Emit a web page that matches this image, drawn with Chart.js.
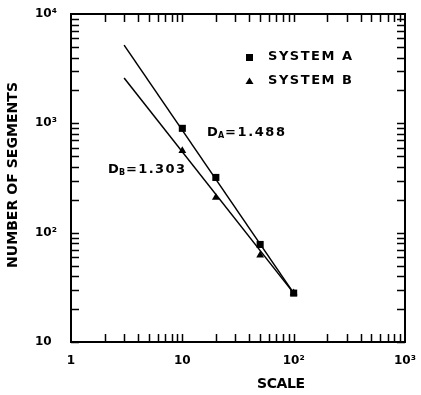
<!DOCTYPE html>
<html>
<head>
<meta charset="utf-8">
<script src="https://cdn.jsdelivr.net/npm/chart.js@4"></script>
<style>
  html, body { margin: 0; padding: 0; background: #fff; }
  #wrap { width: 421px; height: 395px; }
</style>
</head>
<body>
<div id="wrap"><canvas id="fractalChart" width="421" height="395"></canvas></div>
<script>
const scaleA = [10, 20, 50, 100];
const segmentsA = [900, 320, 78, 28];
const scaleB = [10, 20, 50, 100];
const segmentsB = [560, 210, 62, 28];

// fitted power-law lines, end points
const fitScale = [3, 100];
const fitA = [5200, 28];
const fitB = [2600, 28];

// axis ticks
const xTickValues = [1, 10, 100, 1000];
const xTickLabels = ['1', '10', '10²', '10³'];
const yTickValues = [10, 100, 1000, 10000];
const yTickLabels = ['10', '10²', '10³', '10⁴'];

const seriesNames = ['SYSTEM A', 'SYSTEM B'];
const dimLabels = ['1.488', '1.303'];

const FONT = '"DejaVu Sans", sans-serif';

function toPoints(xs, ys) {
    return xs.map((v, i) => ({ x: v, y: ys[i] }));
}

// text stretched to a given width with letter spacing
function spacedText(ctx, text, x, y, width) {
    ctx.letterSpacing = '0px';
    const w = ctx.measureText(text).width;
    const s = text.length > 1 ? (width - w) / (text.length - 1) : 0;
    ctx.letterSpacing = s + 'px';
    ctx.fillText(text, x, y);
    ctx.letterSpacing = '0px';
}

// frame, inward ticks on all sides, titles, legend, notes
const decorations = {
    id: 'decorations',
    afterDraw(chart) {
        const { ctx, chartArea: a } = chart;
        const xs = chart.scales.x, ys = chart.scales.y;
        ctx.save();
        ctx.strokeStyle = '#000';
        ctx.lineWidth = 2;
        ctx.strokeRect(a.left, a.top, a.right - a.left, a.bottom - a.top);

        ctx.lineWidth = 1.5;
        ctx.beginPath();
        const tl = 8;
        for (let d = 1; d < 1000; d *= 10) {
            for (let m = 1; m <= 9; m++) {
                if (d === 1 && m === 1) continue;
                const px = Math.round(xs.getPixelForValue(m * d)) + 0.5;
                ctx.moveTo(px, a.bottom); ctx.lineTo(px, a.bottom - tl);
                ctx.moveTo(px, a.top); ctx.lineTo(px, a.top + tl);
            }
        }
        for (let d = 10; d < 10000; d *= 10) {
            for (let m = 1; m <= 9; m++) {
                const py = Math.round(ys.getPixelForValue(m * d)) + 0.5;
                ctx.moveTo(a.left, py); ctx.lineTo(a.left + tl, py);
                ctx.moveTo(a.right, py); ctx.lineTo(a.right - tl, py);
            }
        }
        ctx.stroke();

        ctx.fillStyle = '#000';
        ctx.textBaseline = 'middle';
        ctx.textAlign = 'left';

        // axis titles
        ctx.font = 'bold 14px ' + FONT;
        spacedText(ctx, 'SCALE', 257, 384, 48);
        ctx.save();
        ctx.translate(13, 175);
        ctx.rotate(-Math.PI / 2);
        spacedText(ctx, 'NUMBER OF SEGMENTS', -93, 0, 186);
        ctx.restore();

        // legend
        ctx.font = 'bold 13px ' + FONT;
        ctx.fillRect(246, 54, 7, 7);
        spacedText(ctx, seriesNames[0], 268, 57, 84);
        ctx.beginPath();
        ctx.moveTo(249.5, 77.5); ctx.lineTo(253.5, 84); ctx.lineTo(245.5, 84);
        ctx.closePath();
        ctx.fill();
        spacedText(ctx, seriesNames[1], 268, 81, 84);

        // fractal dimension notes
        const notes = [[207, 133, 'A', dimLabels[0], 78], [108, 170, 'B', dimLabels[1], 77]];
        notes.forEach(([nx, ny, sub, val, w]) => {
            ctx.font = 'bold 13px ' + FONT;
            ctx.fillText('D', nx, ny);
            ctx.font = 'bold 8px ' + FONT;
            ctx.fillText(sub, nx + 11, ny + 3);
            ctx.font = 'bold 13px ' + FONT;
            spacedText(ctx, '=' + val, nx + 18, ny, w - 18);
        });
        ctx.restore();
    }
};

new Chart(document.getElementById('fractalChart'), {
    type: 'scatter',
    data: {
        datasets: [
            {
                label: seriesNames[0],
                data: toPoints(scaleA, segmentsA),
                pointStyle: 'rect',
                pointRadius: 5,
                backgroundColor: '#000',
                borderColor: '#000',
                borderWidth: 0
            },
            {
                label: seriesNames[1],
                data: toPoints(scaleB, segmentsB),
                pointStyle: 'triangle',
                pointRadius: 4.5,
                backgroundColor: '#000',
                borderColor: '#000',
                borderWidth: 0
            },
            {
                label: 'fit A',
                data: toPoints(fitScale, fitA),
                showLine: true,
                pointRadius: 0,
                borderColor: '#000',
                borderWidth: 1.5
            },
            {
                label: 'fit B',
                data: toPoints(fitScale, fitB),
                showLine: true,
                pointRadius: 0,
                borderColor: '#000',
                borderWidth: 1.5
            }
        ]
    },
    options: {
        responsive: false,
        animation: false,
        devicePixelRatio: 1,
        layout: { padding: { left: 35, top: 14, right: 16, bottom: 0 } },
        plugins: {
            legend: { display: false },
            tooltip: { enabled: false }
        },
        scales: {
            x: {
                type: 'logarithmic',
                min: 1,
                max: 1000,
                grid: { display: false, drawTicks: false },
                border: { display: false },
                afterBuildTicks: s => { s.ticks = xTickValues.map(v => ({ value: v })); },
                afterFit: s => { s.height = 53; s.paddingLeft = 0; s.paddingRight = 0; },
                ticks: {
                    autoSkip: false,
                    maxRotation: 0,
                    padding: 12,
                    color: '#000',
                    font: { family: FONT, size: 12, weight: 'bold' },
                    callback: (v, i) => xTickLabels[i]
                }
            },
            y: {
                type: 'logarithmic',
                min: 10,
                max: 10000,
                grid: { display: false, drawTicks: false },
                border: { display: false },
                afterBuildTicks: s => { s.ticks = yTickValues.map(v => ({ value: v })); },
                afterFit: s => { s.width = 36; s.paddingTop = 0; s.paddingBottom = 0; },
                ticks: {
                    autoSkip: false,
                    crossAlign: 'far',
                    padding: 8,
                    color: '#000',
                    font: { family: FONT, size: 12, weight: 'bold' },
                    callback: (v, i) => yTickLabels[i]
                }
            }
        }
    },
    plugins: [decorations]
});
</script>
</body>
</html>
